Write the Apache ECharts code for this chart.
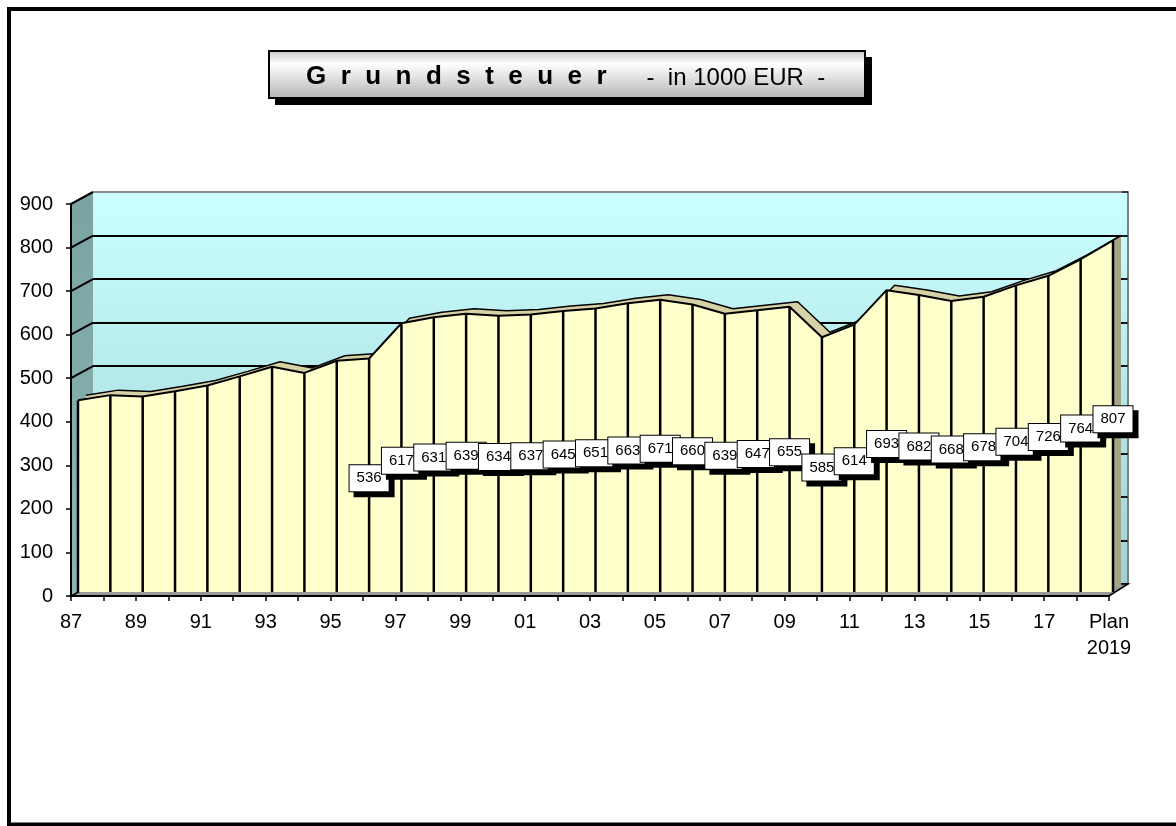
<!DOCTYPE html>
<html>
<head>
<meta charset="utf-8">
<script src="https://cdn.jsdelivr.net/npm/echarts@6/dist/echarts.min.js"></script>
<style>
html,body{margin:0;padding:0;background:#fff;}
#c{width:1176px;height:826px;}
</style>
</head>
<body>
<div id="c"></div>
<script>
// ---- data ----
const categories = ['87','88','89','90','91','92','93','94','95','96','97','98','99','00','01','02','03','04','05','06','07','08','09','10','11','12','13','14','15','16','17','18','Plan\n2019'];
const values = [440,452,449,461,474,495,517,503,531,536,617,631,639,634,637,645,651,663,671,660,639,647,655,585,614,693,682,668,678,704,726,764,807];
const yTicks = [0,100,200,300,400,500,600,700,800,900];
const firstLabeledCategory = '96';
const titleMain = 'G  r  u  n  d  s  t  e  u  e  r';
const titleSub = '-  in 1000 EUR  -';

const FONT = '"Liberation Sans", Arial, Helvetica, sans-serif';
const yMin = yTicks[0], yMax = yTicks[yTicks.length - 1], yStep = yTicks[1] - yTicks[0];
const firstIdx = categories.indexOf(firstLabeledCategory);
const pairs = values.map((v, i) => [i, v]);

const chart = echarts.init(document.getElementById('c'), null, {renderer: 'canvas'});

function hiddenX(g) {
  return {gridIndex: g, type: 'category', data: categories, boundaryGap: false, show: false};
}
function hiddenY(g) {
  return {gridIndex: g, type: 'value', min: yMin, max: yMax, interval: yStep, show: false};
}

const splitColors = yTicks.map((t, i) => i === yTicks.length - 1 ? '#8a8a8a' : '#000');

const option = {
  animation: false,
  backgroundColor: '#fff',
  title: {
    left: 306, top: 61, padding: 0,
    text: '{a|' + titleMain + '}{b|      ' + titleSub + '}',
    textStyle: {
      fontWeight: 'normal',
      rich: {
        a: {fontFamily: FONT, fontSize: 26, fontWeight: 'bold', color: '#000', lineHeight: 32},
        b: {fontFamily: FONT, fontSize: 24, fontWeight: 'normal', color: '#000', lineHeight: 32, padding: [3, 0, 0, 0]}
      }
    }
  },
  grid: [
    {left: 71, top: 204, width: 1038, height: 392, show: false},
    {left: 78, top: 200, width: 1035, height: 392, show: false},
    {left: 86, top: 195, width: 1035, height: 392, show: false},
    {left: 93, top: 192, width: 1035, height: 392, show: true, borderWidth: 0,
      backgroundColor: new echarts.graphic.LinearGradient(0, 0, 0, 1, [
        {offset: 0, color: '#ccffff'}, {offset: 1, color: '#9ed2d4'}])}
  ],
  xAxis: [
    {gridIndex: 0, type: 'category', data: categories, boundaryGap: false, z: 10,
      axisLine: {show: true, lineStyle: {color: '#000', width: 2}},
      axisTick: {show: true, interval: 0, length: 5, lineStyle: {color: '#000', width: 1.5}},
      axisLabel: {interval: 1, fontFamily: FONT, fontSize: 20, color: '#000', margin: 13, lineHeight: 26},
      splitLine: {show: false}},
    hiddenX(1), hiddenX(2), hiddenX(3)
  ],
  yAxis: [
    {gridIndex: 0, type: 'value', min: yMin, max: yMax, interval: yStep, z: 10,
      axisLine: {show: true, lineStyle: {color: '#000', width: 2}},
      axisTick: {show: true, length: 5, lineStyle: {color: '#000', width: 1.5}},
      axisLabel: {fontFamily: FONT, fontSize: 20, color: '#000', margin: 18},
      splitLine: {show: false}},
    hiddenY(1), hiddenY(2),
    {gridIndex: 3, type: 'value', position: 'right', min: yMin, max: yMax, interval: yStep,
      axisLine: {show: true, lineStyle: {color: '#7f7f7f', width: 2}},
      axisTick: {show: true, inside: true, length: 6, lineStyle: {color: '#222', width: 1.5}},
      axisLabel: {show: false},
      splitLine: {show: true, lineStyle: {color: splitColors, width: 2}}}
  ],
  series: [
    { // roof / depth of the 3D area
      type: 'line', name: 'roof', xAxisIndex: 2, yAxisIndex: 2, data: values, z: 2,
      symbol: 'none', silent: true,
      lineStyle: {color: '#000', width: 1.5},
      areaStyle: {opacity: 1, color: new echarts.graphic.LinearGradient(0, 0, 1, 0, [
        {offset: 0, color: '#d6d2a6'}, {offset: 0.991, color: '#d6d2a6'},
        {offset: 0.992, color: '#a6a484'}, {offset: 1, color: '#a6a484'}])}
    },
    { // front face
      type: 'line', name: 'Grundsteuer', xAxisIndex: 1, yAxisIndex: 1, data: values, z: 3,
      symbol: 'none',
      lineStyle: {color: '#000', width: 2},
      areaStyle: {opacity: 1, color: '#ffffcc'}
    },
    { // vertical segment edges
      type: 'custom', xAxisIndex: 1, yAxisIndex: 1, data: pairs, z: 4, silent: true,
      encode: {x: 0, y: 1},
      renderItem: function (params, api) {
        const i = api.value(0), v = api.value(1);
        const p0 = api.coord([i, 0]);
        const p1 = api.coord([i, v]);
        return {type: 'line', shape: {x1: p0[0], y1: p0[1], x2: p1[0], y2: p1[1]},
          style: {stroke: '#000', lineWidth: 2.5}};
      }
    },
    { // data labels
      type: 'custom', xAxisIndex: 1, yAxisIndex: 1, data: pairs, z: 6, silent: true,
      encode: {x: 0, y: 1},
      renderItem: function (params, api) {
        const i = api.value(0), v = api.value(1);
        if (i < firstIdx) return null;
        const p = api.coord([i, v / 2]);
        return {type: 'text', x: p[0], y: p[1] + 3, z2: i,
          style: {text: String(v), align: 'center', verticalAlign: 'middle',
            font: '15px ' + FONT, fill: '#000', lineHeight: 16,
            backgroundColor: '#fff', borderColor: '#000', borderWidth: 1, padding: [5, 7],
            shadowColor: '#000', shadowOffsetX: 5, shadowOffsetY: 5, shadowBlur: 0}};
      }
    }
  ],
  graphic: []
};

chart.setOption(option);

// ---- 3D decoration derived from the axes ----
const last = categories.length - 1;
const F = (c, v) => chart.convertToPixel({xAxisIndex: 0, yAxisIndex: 0}, [c, v]);
const B = (c, v) => chart.convertToPixel({xAxisIndex: 3, yAxisIndex: 3}, [c, v]);

const fl0 = F(0, yMin), ft0 = F(0, yMax), bt0 = B(0, yMax), bl0 = B(0, yMin);
const frR = F(last, yMin), brR = B(last, yMin);

const g = [];
// outer frame
g.push({type: 'rect', z: 0, shape: {x: 9, y: 9, width: 1190, height: 815.5},
  style: {fill: 'none', stroke: '#000', lineWidth: 4}});
// left wall
g.push({type: 'polygon', z: 1, shape: {points: [fl0, ft0, bt0, bl0]},
  style: {fill: new echarts.graphic.LinearGradient(0, 0, 0, 1, [
    {offset: 0, color: '#7aa3a2'}, {offset: 1, color: '#8bb5b4'}]), stroke: 'none'}});
// floor
g.push({type: 'polygon', z: 1, shape: {points: [fl0, frR, brR, bl0]},
  style: {fill: '#9a9a9a', stroke: '#000', lineWidth: 1.5}});
// wall grid lines (diagonals)
yTicks.forEach(t => {
  if (t > values[0] || t === yMax) {
    const a = F(0, t), b = B(0, t);
    g.push({type: 'line', z: 1, shape: {x1: a[0], y1: a[1], x2: b[0], y2: b[1]},
      style: {stroke: '#000', lineWidth: 2}});
  }
});
// title box: shadow, then face
g.push({type: 'rect', z: 4, shape: {x: 275, y: 57, width: 597, height: 48},
  style: {fill: '#000', stroke: 'none'}});
g.push({type: 'rect', z: 5, shape: {x: 269, y: 51, width: 596, height: 47},
  style: {fill: new echarts.graphic.LinearGradient(0, 0, 0, 1, [
    {offset: 0, color: '#c4c4c4'}, {offset: 0.28, color: '#ffffff'}, {offset: 1, color: '#b4b4b4'}]),
    stroke: '#000', lineWidth: 2}});

chart.setOption({graphic: g});
</script>
</body>
</html>
